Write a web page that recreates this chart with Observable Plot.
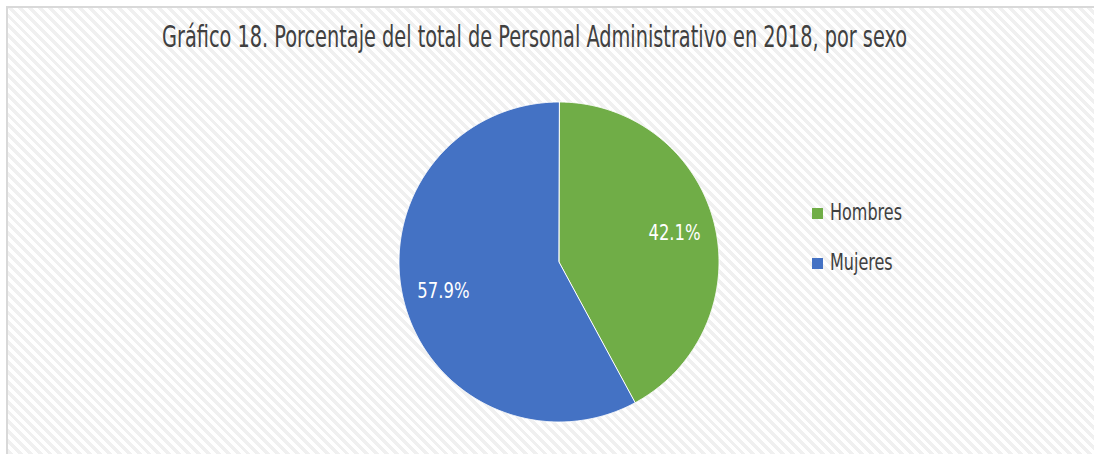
<!DOCTYPE html>
<html><head><meta charset="utf-8">
<script src="https://cdn.jsdelivr.net/npm/d3@7"></script>
<script src="https://cdn.jsdelivr.net/npm/@observablehq/plot@0.6"></script>
<style>
html,body{margin:0;padding:0;background:#fff;overflow:hidden;}
#wrap{position:relative;width:1094px;height:454px;overflow:hidden;font-family:"Liberation Sans Narrow","DejaVu Sans Condensed","Arial Narrow",sans-serif;color:#404040;}
#frame{position:absolute;left:6px;top:6px;width:1300px;height:700px;border-left:2px solid #d9d9d9;border-top:2px solid #d9d9d9;border-right:0;border-bottom:0;box-sizing:border-box;
  background:repeating-linear-gradient(45deg,#ffffff 0px,#ffffff 3.5px,#f0f0f0 3.5px,#f0f0f0 7px);}
#plot{position:absolute;left:0;top:0;}
.abs{position:absolute;white-space:nowrap;line-height:1;}
.mk{display:inline-block;width:0;height:0;}
</style>
</head><body>
<div id="wrap">
  <div id="frame"></div>
  <div id="plot"></div>
</div>
<script>
const title = "Gráfico 18. Porcentaje del total de Personal Administrativo en 2018, por sexo";
const categories = ["Hombres", "Mujeres"];
const values = [42.1, 57.9];
const colors = ["#70AD47", "#4472C4"];

const arcs = d3.pie().sort(null).value(d => d)(values);

// slice outlines built from the pie layout angles
const rows = [];
arcs.forEach((a, i) => {
  rows.push({cat: categories[i], x: 0, y: 0});
  const n = Math.max(2, Math.ceil((a.endAngle - a.startAngle) / 0.005));
  for (let k = 0; k <= n; k++) {
    const t = a.startAngle + (a.endAngle - a.startAngle) * k / n;
    rows.push({cat: categories[i], x: Math.sin(t), y: Math.cos(t)});
  }
});
const labelRows = arcs.map((a, i) => {
  const m = (a.startAngle + a.endAngle) / 2;
  return {cat: categories[i], x: 0.745 * Math.sin(m), y: 0.745 * Math.cos(m), text: d3.format(".1f")(values[i]) + "%"};
});

const fontFam = '"Liberation Sans Narrow","DejaVu Sans Condensed","Arial Narrow",sans-serif';
const chart = Plot.plot({
  width: 1094,
  height: 454,
  marginLeft: 398.5,
  marginRight: 375.5,
  marginTop: 101.5,
  marginBottom: 32.5,
  x: {domain: [-1, 1], axis: null},
  y: {domain: [-1, 1], axis: null},
  color: {domain: categories, range: colors},
  style: {background: "transparent"},
  marks: [
    Plot.line(rows, {x: "x", y: "y", z: "cat", fill: "cat", stroke: "#ffffff", strokeWidth: 1, strokeLinejoin: "round", curve: "linear-closed"}),
    Plot.text(labelRows, {x: "x", y: "y", text: "text", fill: "#ffffff", fontSize: 22, fontFamily: fontFam})
  ]
});
document.getElementById("plot").appendChild(chart);
// condense the value labels to the reference's narrow face
chart.querySelectorAll("text").forEach(el => {
  const w = el.getComputedTextLength();
  if (w > 0) {
    el.setAttribute("textLength", (w * 0.83).toFixed(1));
    el.setAttribute("lengthAdjust", "spacingAndGlyphs");
  }
});

const wrap = document.getElementById("wrap");
function place(el, left, baseline, targetWidth, scaleOverride) {
  wrap.appendChild(el);
  el.style.left = left + "px";
  el.style.top = "0px";
  const mk = document.createElement("span");
  mk.className = "mk";
  el.appendChild(mk);
  const wr = wrap.getBoundingClientRect();
  const b = mk.getBoundingClientRect().top - wr.top;
  el.removeChild(mk);
  el.style.top = (baseline - b) + "px";
  let s = scaleOverride;
  if (targetWidth) {
    s = targetWidth / el.getBoundingClientRect().width;
  }
  if (s) {
    el.style.transformOrigin = "0 0";
    el.style.transform = `scaleX(${s})`;
  }
  return s;
}

const t = document.createElement("div");
t.className = "abs";
t.style.fontSize = "30px";
t.textContent = title;
place(t, 162, 46.5, 745);

let legScale = null;
categories.forEach((c, i) => {
  const sw = document.createElement("div");
  sw.className = "abs";
  sw.style.width = "11px"; sw.style.height = "11px";
  sw.style.background = colors[i];
  sw.style.left = "812px";
  sw.style.top = (208 + i * 50) + "px";
  wrap.appendChild(sw);
  const tx = document.createElement("div");
  tx.className = "abs";
  tx.style.fontSize = "23px";
  tx.textContent = c;
  if (i === 0) legScale = place(tx, 830, 219.5, 72);
  else place(tx, 830, 269.5, null, legScale);
});
</script>
</body></html>
